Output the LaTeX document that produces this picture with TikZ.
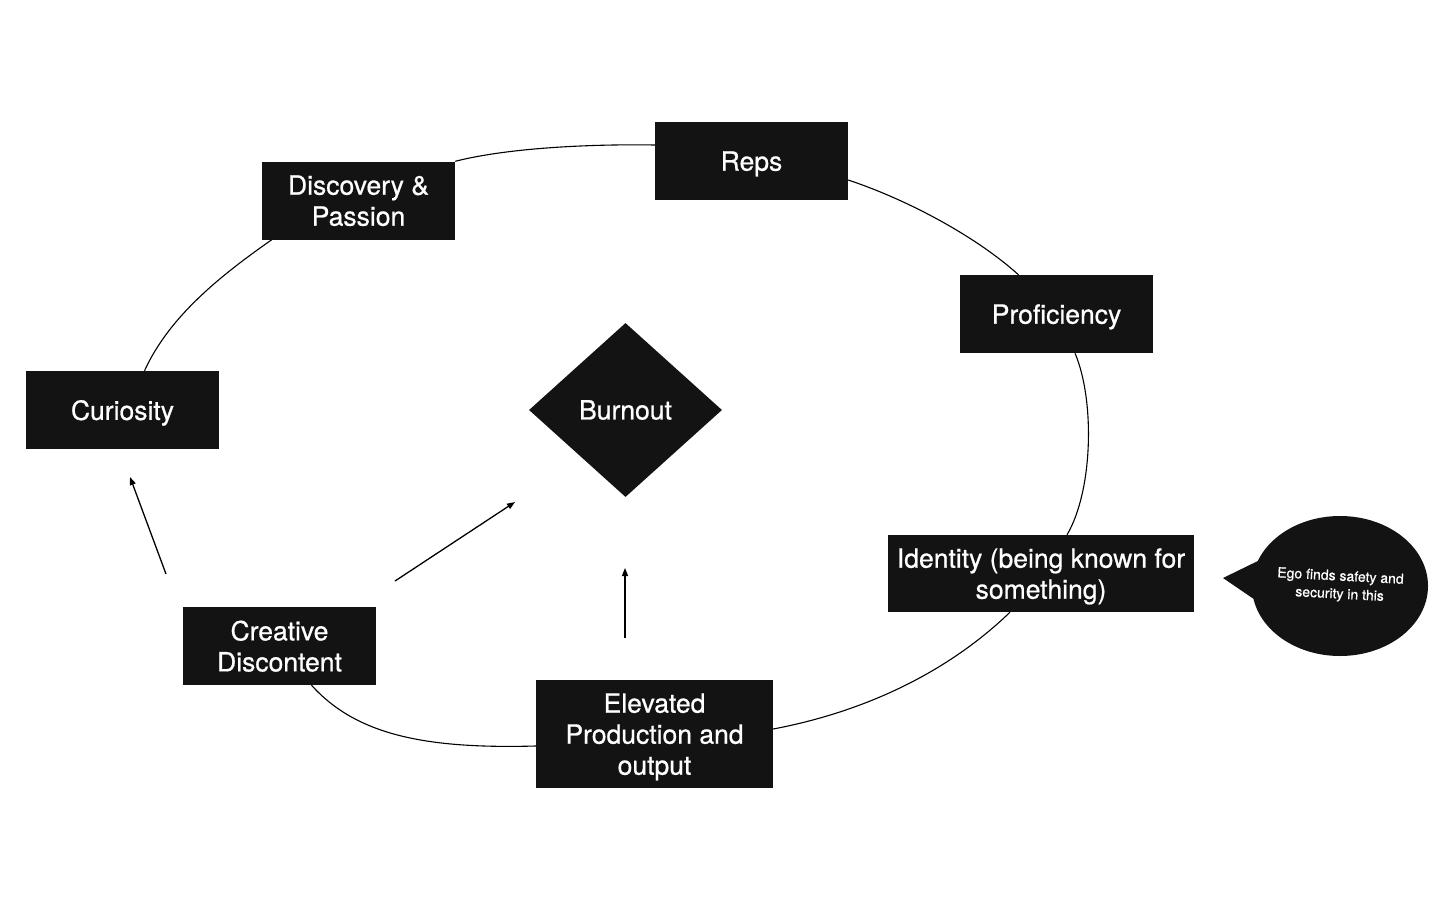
\documentclass[tikz,border=0pt]{standalone}
\usepackage{fontspec}
\setmainfont{TeX Gyre Heros}
\newfontfamily\medfont{TeX Gyre Heros}[AutoFakeBold=0.7]
\usetikzlibrary{shapes.geometric,arrows.meta,calc}
\definecolor{boxfill}{HTML}{131313}
\begin{document}
\begin{tikzpicture}[x=1pt,y=-1pt,
  stagebox/.style={draw=none,fill=boxfill,text=white,inner sep=0pt,align=center,text depth=0pt,
    minimum width=193pt,minimum height=78pt,font=\medfont\bfseries\fontsize{26.5}{31}\selectfont},
  loopline/.style={line width=1.1pt,black},
  flowarrow/.style={line width=1.3pt,black,-{Triangle[length=8pt,width=6pt]}}]
\useasboundingbox (0,0) rectangle (1456,910);
% stage boxes
\node[stagebox] (disc) at (358.5,200.5) {Discovery \&\\Passion};
\node[stagebox] (reps) at (751.5,161) {Reps};
\node[stagebox] (prof) at (1056.5,314) {Proficiency};
\node[stagebox] (cur) at (122.5,410) {Curiosity};
\node[stagebox,minimum width=306pt,minimum height=77pt] (ident) at (1041,573.5) {Identity (being known for\\something)};
\node[stagebox] (crea) at (279.5,646) {Creative\\Discontent};
\node[stagebox,minimum width=237pt,minimum height=108pt] (elev) at (654.5,734) {Elevated\\Production and\\output};
% burnout diamond
\node[diamond,fill=boxfill,text=white,inner sep=0pt,minimum width=193pt,minimum height=174pt,
  font=\medfont\bfseries\fontsize{26.5}{31}\selectfont] (burn) at (625.5,410) {Burnout};
% loop segments
\draw[loopline] ($(cur.north)+(22,0)$) .. controls +(25,-55) and +(-50,35) .. ($(disc.south west)+(10,0)$);
\draw[loopline] (disc.north east) .. controls +(55,-14) and +(-60,-1) .. ($(reps.west)+(0,-16)$);
\draw[loopline] ($(reps.east)+(0,19)$) .. controls +(60,20) and +(-42,-38) .. ($(prof.north)+(-38,0)$);
\draw[loopline] ($(prof.south)+(18.5,0)$) .. controls +(20,47) and +(26,-44) .. ($(ident.north)+(26,0)$);
\draw[loopline] ($(ident.south)+(-31,0)$) .. controls +(-60,58) and +(95,-18) .. ($(elev.east)+(0,-5)$);
\draw[loopline] ($(elev.west)+(0,12)$) .. controls +(-110,3) and +(45,50) .. ($(crea.south)+(32,0)$);
% arrows
\coordinate (a1s) at (166,574);
\coordinate (a1e) at (130,477);
\coordinate (a2s) at (395,581);
\coordinate (a2e) at (515,502);
\coordinate (a3s) at (625,638);
\coordinate (a3e) at (625,568);
\draw[flowarrow] (a1s) -- (a1e);
\draw[flowarrow] (a2s) -- (a2e);
\draw[flowarrow] (a3s) -- (a3e);
% speech bubble
\node[ellipse,fill=boxfill,inner sep=0pt,minimum width=176pt,minimum height=140pt] (bub) at (1340,586) {};
\coordinate (tail) at (1223,578);
\fill[boxfill] (tail) -- (1264,558) -- (1264,606) -- cycle;
\node[text=white,align=center,rotate=-3,font=\medfont\bfseries\fontsize{14}{18}\selectfont] (bubtext) at (bub.center) {Ego finds safety and\\security in this};
\end{tikzpicture}
\end{document}
